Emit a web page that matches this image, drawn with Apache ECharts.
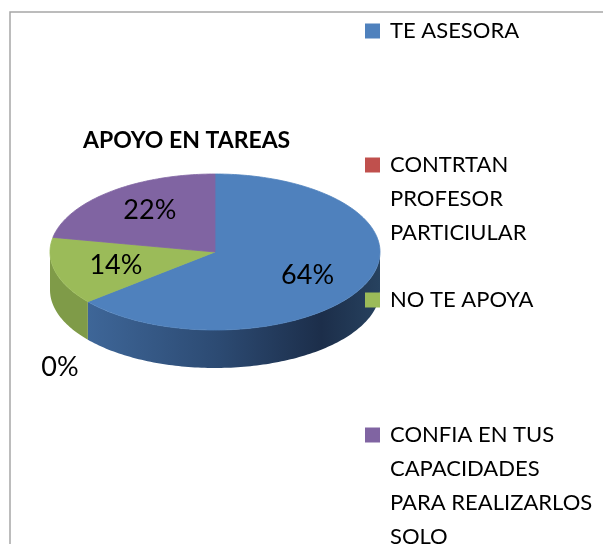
<!DOCTYPE html>
<html>
<head>
<meta charset="utf-8">
<script src="https://cdn.jsdelivr.net/npm/echarts@6/dist/echarts.min.js"></script>
<style>
    html, body { margin: 0; padding: 0; background: #fff; }
    #chart { width: 603px; height: 544px; }
</style>
</head>
<body>
<div id="chart"></div>
<script>
// data
const categories = [
    'TE ASESORA',
    'CONTRTAN\nPROFESOR\nPARTICIULAR',
    'NO TE APOYA',
    'CONFIA EN TUS\nCAPACIDADES\nPARA REALIZARLOS\nSOLO'
];
const values = [64, 0, 14, 22];
const colors = ['#4f81bd', '#c0504d', '#9bbb59', '#8064a2'];
const titleText = 'APOYO EN TAREAS';

// layout of the tilted pie
const PIE = { cx: 215, cy: 252, rx: 165, ry: 78, depth: 38 };
const legendCenters = [31, 165, 300, 435];
const LH = 34;

const total = values.reduce((a, b) => a + b, 0);

function pt(a, dy) {
    return [PIE.cx + PIE.rx * Math.sin(a), PIE.cy - PIE.ry * Math.cos(a) + (dy || 0)];
}

function arc(a0, a1, dy) {
    const n = Math.max(2, Math.ceil((a1 - a0) / 0.02));
    const pts = [];
    for (let i = 0; i <= n; i++) {
        pts.push(pt(a0 + (a1 - a0) * i / n, dy));
    }
    return pts;
}

function sideFill(idx) {
    if (idx === 0) {
        return new echarts.graphic.LinearGradient(0, 0, 1, 0, [
            { offset: 0, color: '#3e6698' },
            { offset: 0.45, color: '#2c4a72' },
            { offset: 0.8, color: '#1c2e4a' },
            { offset: 1, color: '#27425f' }
        ]);
    }
    const side = ['#3e6698', '#9a3f3d', '#7f9b48', '#654f82'];
    return side[idx];
}

function renderSlice(idx) {
    return function (params, api) {
        const v = api.value(0);
        let before = 0;
        for (let i = 0; i < idx; i++) before += values[i];
        const a0 = before / total * Math.PI * 2;
        const a1 = (before + v) / total * Math.PI * 2;
        const color = api.visual('color');
        const children = [];

        if (v > 0) {
            // front wall, only the part facing the viewer
            const s0 = Math.max(a0, Math.PI / 2);
            const s1 = Math.min(a1, Math.PI * 3 / 2);
            if (s1 > s0) {
                const top = arc(s0, s1, 0);
                const bottom = arc(s0, s1, PIE.depth).reverse();
                children.push({
                    type: 'polygon',
                    z2: 1,
                    shape: { points: top.concat(bottom) },
                    style: { fill: sideFill(idx) }
                });
            }
            children.push({
                type: 'polygon',
                z2: 5,
                shape: { points: [[PIE.cx, PIE.cy]].concat(arc(a0, a1, 0)) },
                style: { fill: color, stroke: color, lineWidth: 0.8 }
            });
        }

        const mid = (a0 + a1) / 2;
        let lp;
        if (v > 0) {
            lp = [PIE.cx + 0.62 * PIE.rx * Math.sin(mid), PIE.cy - 0.7 * PIE.ry * Math.cos(mid)];
        } else {
            lp = [PIE.cx + 1.22 * PIE.rx * Math.sin(mid), PIE.cy - 1.2 * PIE.ry * Math.cos(mid) + PIE.depth + 18];
        }
        children.push({
            type: 'text',
            z2: 10,
            style: {
                text: Math.round(v / total * 100) + '%',
                x: lp[0],
                y: lp[1],
                align: 'center',
                verticalAlign: 'middle',
                font: '27px Lato',
                fill: '#000'
            }
        });
        return { type: 'group', children: children };
    };
}

const chart = echarts.init(document.getElementById('chart'));

const option = {
    animation: false,
    title: {
        text: titleText,
        left: 83,
        top: 129,
        padding: 0,
        textStyle: { fontFamily: 'Lato', fontWeight: 'bold', fontSize: 23, color: '#000' }
    },
    legend: categories.map((name, i) => {
        const L = name.split('\n').length;
        return {
            data: [name],
            orient: 'vertical',
            left: 365,
            top: legendCenters[i] - (2 * L - 1) * LH / 2,
            padding: 0,
            icon: 'rect',
            itemWidth: 15,
            itemHeight: 15,
            selectedMode: false,
            formatter: n => '\n'.repeat(L - 1) + n,
            textStyle: { fontFamily: 'Lato', fontSize: 22, lineHeight: LH, color: '#000', padding: [0, 0, 0, 5] }
        };
    }),
    graphic: [{
        type: 'rect',
        shape: { x: 10, y: 12, width: 620, height: 560 },
        style: { fill: 'none', stroke: '#a6a6a6', lineWidth: 1.5 },
        silent: true
    }],
    series: categories.map((name, i) => ({
        type: 'custom',
        name: name,
        coordinateSystem: 'none',
        silent: true,
        itemStyle: { color: colors[i] },
        data: [[values[i]]],
        renderItem: renderSlice(i)
    }))
};

chart.setOption(option);
</script>
</body>
</html>
